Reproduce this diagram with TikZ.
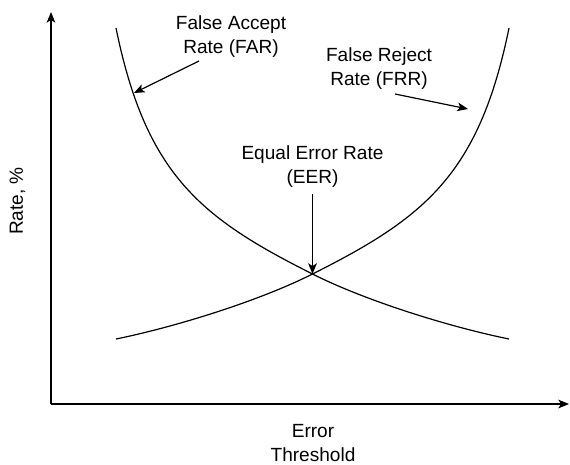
\documentclass[tikz,border=0pt]{standalone}
\usepackage{fontspec}
\setmainfont{Liberation Sans}
\usetikzlibrary{arrows.meta}
\tikzset{
  axis/.style={line width=1.1pt, -{Stealth[length=8pt,width=6.5pt,inset=2pt]}},
  curve/.style={line width=0.9pt},
  pointer/.style={line width=0.9pt, -{Stealth[length=8pt,width=6.5pt,inset=2pt]}},
  lbl/.style={align=center, inner sep=0pt, font=\fontsize{14.3pt}{18pt}\selectfont}
}
\begin{document}
\begin{tikzpicture}[x=0.75pt,y=-0.75pt]
\useasboundingbox (0,0) rectangle (570,464);
% axes
\coordinate (origin) at (51,404);
\coordinate (ytip) at (51,12);
\coordinate (xtip) at (569,404);
\draw[axis] (origin) -- (ytip);
\draw[axis] (origin) -- (xtip);
% points
\coordinate (eer) at (312.5,274);
\coordinate (farpt) at (134,93);
\coordinate (frrpt) at (468,109);
\coordinate (fars) at (199,61);
\coordinate (frrs) at (395,94);
% curves
\draw[curve] (116,28) .. controls (146,175) and (201,218) .. (eer)
  .. controls (366,301) and (450,327) .. (509,339);
\draw[curve] (509,28) .. controls (479,175) and (424,218) .. (eer)
  .. controls (259,301) and (175,327) .. (116,339);
% labels
\node[lbl] (farlbl) at (231,37) {False Accept\\Rate (FAR)};
\node[lbl] (frrlbl) at (379,69) {False Reject\\Rate (FRR)};
\node[lbl] (eerlbl) at (312.5,167) {Equal Error Rate\\(EER)};
\node[lbl] (xlbl) at (313,443) {Error\\Threshold};
\node[lbl, rotate=90] (ylbl) at (17.5,201) {Rate, \%};
% pointers
\draw[pointer] (fars) -- (farpt);
\draw[pointer] (frrs) -- (frrpt);
\draw[pointer] (eerlbl.south -| eer) ++(0,6) -- (eer);
\end{tikzpicture}
\end{document}
